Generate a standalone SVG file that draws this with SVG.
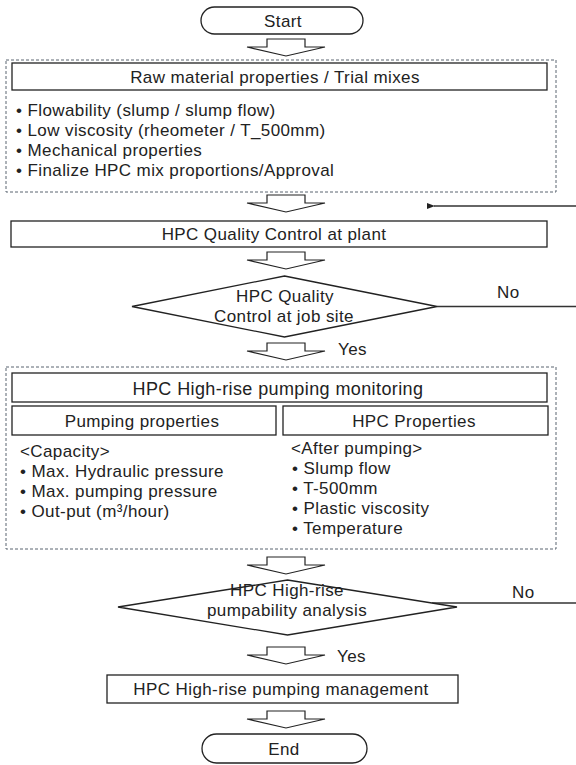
<svg xmlns="http://www.w3.org/2000/svg" width="576" height="765" viewBox="0 0 576 765">
<style>
text{font-family:"Liberation Sans",Arial,sans-serif;font-size:17px;letter-spacing:0.4px;fill:#222;dominant-baseline:central}
.c{text-anchor:middle}
.t18{font-size:18px}
.box{fill:#fff;stroke:#222;stroke-width:1.3}
.dash{fill:#fff;stroke:#5a6470;stroke-width:1;stroke-dasharray:3 2}
.ln{fill:none;stroke:#333;stroke-width:1.3}
</style>
<defs>
<path id="ba" d="M-19,0 H19 V8 H39 L0,17 L-39,8 H-19 Z" fill="#fff" stroke="#222" stroke-width="1.2"/>
<marker id="ah" markerWidth="8" markerHeight="6" refX="1" refY="3" orient="auto-start-reverse" markerUnits="userSpaceOnUse">
<path d="M8,0 L0,3 L8,6 Z" fill="#222"/>
</marker>
</defs>

<g id="connectors">
<use href="#ba" x="286" y="39"/>
<use href="#ba" x="286" y="195"/>
<use href="#ba" x="286" y="252"/>
<use href="#ba" x="286" y="343"/>
<use href="#ba" x="286" y="557"/>
<use href="#ba" x="286" y="647"/>
<use href="#ba" x="286" y="711"/>
<line class="ln" x1="576" y1="206" x2="434" y2="206" marker-end="url(#ah)"/>
<line class="ln" x1="437" y1="306.5" x2="576" y2="306.5"/>
<line class="ln" x1="432" y1="603" x2="576" y2="603"/>
<text x="497" y="292">No</text>
<text x="338" y="349">Yes</text>
<text x="512" y="592">No</text>
<text x="337" y="656">Yes</text>
</g>

<g id="start">
<rect class="box" x="201" y="7" width="162" height="27" rx="13.5"/>
<text class="c" x="283" y="21">Start</text>
</g>

<g id="trial">
<rect class="dash" x="6" y="60" width="550" height="132"/>
<rect class="box" x="12" y="63" width="535" height="27"/>
<text class="c" x="275" y="77">Raw material properties / Trial mixes</text>
<text x="16" y="110">• Flowability (slump / slump flow)</text>
<text x="16" y="130">• Low viscosity (rheometer  / T_500mm)</text>
<text x="16" y="150">• Mechanical properties</text>
<text x="16" y="170">• Finalize HPC mix proportions/Approval</text>
</g>

<g id="plant">
<rect class="box" x="11" y="221" width="536" height="26"/>
<text class="c" x="274" y="234">HPC Quality Control at plant</text>
</g>

<g id="jobsite">
<polygon class="box" points="284.5,276 437,306.5 284.5,337 132,306.5"/>
<text class="c" x="285" y="296">HPC Quality</text>
<text class="c" x="284" y="316">Control at job site</text>
</g>

<g id="monitoring">
<rect class="dash" x="6" y="367" width="550" height="182"/>
<rect class="box" x="12" y="373" width="535" height="29"/>
<text class="c t18" x="278" y="389">HPC  High-rise  pumping  monitoring</text>
<rect class="box" x="12" y="406" width="264" height="29"/>
<text class="c" x="142" y="421">Pumping properties</text>
<rect class="box" x="283" y="406" width="265" height="29"/>
<text class="c" x="414" y="421">HPC Properties</text>
<text x="20" y="451">&lt;Capacity&gt;</text>
<text x="20" y="471">• Max. Hydraulic pressure</text>
<text x="20" y="491">• Max. pumping pressure</text>
<text x="20" y="511">• Out-put  (m³/hour)</text>
<text x="291" y="448">&lt;After pumping&gt;</text>
<text x="292" y="468">• Slump flow</text>
<text x="292" y="488">• T-500mm</text>
<text x="292" y="508">• Plastic viscosity</text>
<text x="292" y="528">• Temperature</text>
</g>

<g id="pumpability">
<polygon class="box" points="287.5,580 457,607 287.5,635 118,607"/>
<text class="c" x="287" y="590">HPC High-rise</text>
<text class="c" x="287" y="610">pumpability analysis</text>
</g>

<g id="management">
<rect class="box" x="107" y="675" width="351" height="28"/>
<text class="c" x="281" y="689">HPC High-rise pumping management</text>
</g>

<g id="end">
<rect class="box" x="202" y="734" width="165" height="29" rx="14.5"/>
<text class="c" x="284" y="749">End</text>
</g>
</svg>
